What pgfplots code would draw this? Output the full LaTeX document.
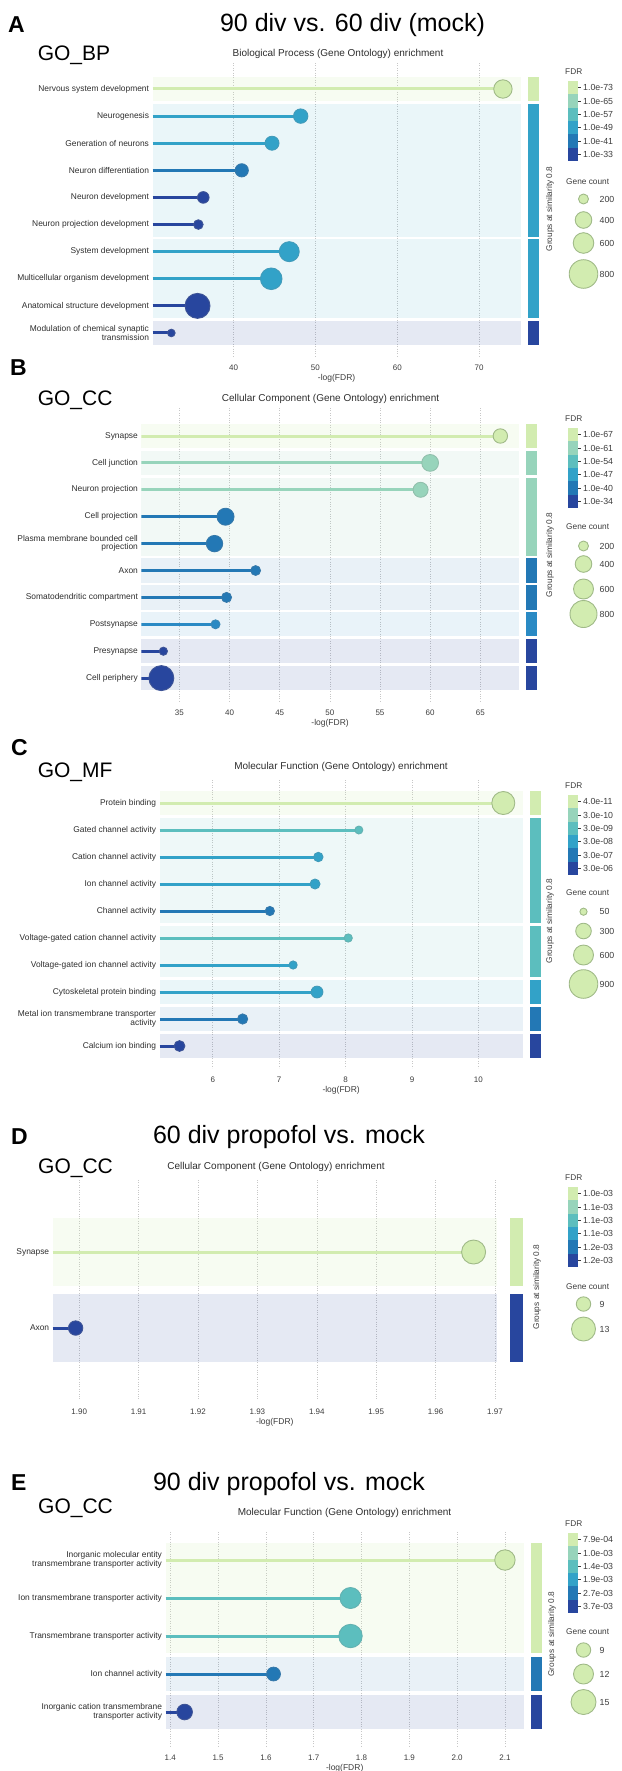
\documentclass[border=0pt]{standalone}
\usepackage{fontspec}
\setmainfont{Liberation Sans}
\usepackage{pgfplots}
\pgfplotsset{compat=1.18}

\definecolor{c1}{RGB}{210,236,176}
\definecolor{c2}{RGB}{151,212,187}
\definecolor{c3}{RGB}{92,190,190}
\definecolor{c4}{RGB}{50,162,200}
\definecolor{c45}{RGB}{42,138,196}
\definecolor{c5}{RGB}{35,120,181}
\definecolor{c6}{RGB}{40,70,158}
\definecolor{b1}{RGB}{160,186,136}
\definecolor{lbl}{RGB}{45,45,45}
\definecolor{tk}{RGB}{60,60,60}
\colorlet{c2d}{c2!75!gray}
\colorlet{c3d}{c3!80!gray}
\colorlet{c4d}{c4!80!gray}
\colorlet{c45d}{c45!80!gray}
\colorlet{c5d}{c5!80!gray}
\colorlet{c6d}{c6!75!gray}

\newcommand{\fs}[1]{\fontsize{#1}{#1}\selectfont}

\pgfplotsset{
  panel/.style={scale only axis, clip mode=individual, y dir=reverse, anchor=north west,
    axis line style={draw=none}, major tick length=0pt, xmajorgrids,
    grid style={dash pattern=on 0.8pt off 1.6pt, black!22, line width=0.5pt},
    ytick={1,...,10},
    xticklabel style={font=\fs{8}, text=tk, yshift=-5pt},
    yticklabel style={font=\fs{8.4}, text=lbl, align=right},
    xlabel={-log(FDR)},
    xlabel style={font=\fs{8.5}, text=tk, at={(axis description cs:0.5,0)}, anchor=center, yshift=-22pt},
    /pgf/number format/assume math mode=true},
  lol/.style 2 args={xcomb, line width=3pt, color=#1, mark=*,
    mark options={solid, line width=0.9pt, fill=#1, draw=#2}},
}

% group background + group bar (inside an axis)
\newcommand{\grp}[5]{%
  \fill[#3, fill opacity=#4] (axis cs:\XA,#1) rectangle (axis cs:\XB,#2);
  \fill[#5] ([xshift=\GA]axis cs:\XB,#1) rectangle ([xshift=\GB]axis cs:\XB,#2);
}
% FDR colour legend (top y of bar in px)
\newcommand{\fdrlegend}[7]{%
  \node[anchor=west, inner sep=0pt, font=\fs{8.3}, text=tk] at (565pt,{-(#1-9)*1pt}) {FDR};
  \foreach \c [count=\i from 0] in {c1,c2,c3,c4,c5,c6}{
    \fill[\c] (568pt,{-(#1+13.33*\i)*1pt}) rectangle (578pt,{-(#1+13.33*(\i+1))*1pt});
  }
  \foreach \l [count=\i from 0] in {#2,#3,#4,#5,#6,#7}{
    \draw[tk, line width=0.5pt] (578pt,{-(#1+13.33*\i+6.67)*1pt}) -- ++(3pt,0);
    \node[anchor=west, inner sep=0pt, font=\fs{8.8}, text=tk] at (583pt,{-(#1+13.33*\i+6.67)*1pt}) {\l};
  }
}
\newcommand{\gctitle}[1]{\node[anchor=west, inner sep=0pt, font=\fs{8.3}, text=tk] at (566pt,-#1pt) {Gene count};}
\newcommand{\gc}[3]{%
  \draw[fill=c1, draw=b1, line width=0.9pt] (583.5pt,-#1pt) circle[radius=#2pt];
  \node[anchor=west, inner sep=0pt, font=\fs{8.8}, text=tk] at (599.5pt,-#1pt) {#3};}
\newcommand{\grouplabel}[2]{\node[rotate=90, font=\fs{8.3}, text=tk] at (#1pt,-#2pt) {Groups at similarity 0.8};}

\begin{document}
\begin{tikzpicture}[x=1pt,y=1pt]
\path[use as bounding box] (0,0) rectangle (621pt,-1771pt);

%================ PANEL A =================
\node[anchor=west, inner sep=0pt, font=\bfseries\fs{23}] at (8pt,-25pt) {A};
\node[inner sep=0pt, font=\fs{25}] at (352.5pt,-25pt) {90 div vs. 60 div (mock)};
\node[anchor=west, inner sep=0pt, font=\fs{21}] at (37.6pt,-55pt) {GO\_BP};
\node[inner sep=0pt, font=\fs{10}, text=lbl] at (338pt,-54pt) {Biological Process (Gene Ontology) enrichment};
\def\XA{30.1}\def\XB{75.07}\def\GA{7.5pt}\def\GB{18.5pt}
\begin{axis}[panel, at={(152.5pt,-63pt)}, width=368.2pt, height=293pt,
  xmin=30.1, xmax=75.07, ymin=0.041, ymax=10.849,
  xtick={40,50,60,70}, xticklabels={40,50,60,70},
  yticklabels={{Nervous system development},{Neurogenesis},{Generation of neurons},{Neuron differentiation},{Neuron development},{Neuron projection development},{System development},{Multicellular organism development},{Anatomical structure development},{Modulation of chemical synaptic\\transmission}}]
\grp{0.55}{1.45}{c1}{0.17}{c1}
\grp{1.55}{6.45}{c4}{0.1}{c4}
\grp{6.55}{9.45}{c4}{0.1}{c4}
\grp{9.55}{10.45}{c6}{0.12}{c6}
\addplot[lol={c1}{b1}, mark size=9.2pt] coordinates {(72.9,1)};
\addplot[lol={c4}{c4d}, mark size=7.2pt] coordinates {(48.2,2)};
\addplot[lol={c4}{c4d}, mark size=7.0pt] coordinates {(44.7,3)};
\addplot[lol={c5}{c5d}, mark size=6.6pt] coordinates {(41.0,4)};
\addplot[lol={c6}{c6d}, mark size=5.8pt] coordinates {(36.3,5)};
\addplot[lol={c6}{c6d}, mark size=4.8pt] coordinates {(35.7,6)};
\addplot[lol={c4}{c4d}, mark size=10.0pt] coordinates {(46.8,7)};
\addplot[lol={c4}{c4d}, mark size=10.8pt] coordinates {(44.6,8)};
\addplot[lol={c6}{c6d}, mark size=12.5pt] coordinates {(35.6,9)};
\addplot[lol={c6}{c6d}, mark size=3.8pt] coordinates {(32.4,10)};
\end{axis}
\grouplabel{550}{209}
\fdrlegend{81}{1.0e-73}{1.0e-65}{1.0e-57}{1.0e-49}{1.0e-41}{1.0e-33}
\gctitle{182}
\gc{199}{5}{200}
\gc{220}{8.3}{400}
\gc{243}{10.3}{600}
\gc{274}{14.3}{800}

%================ PANEL B =================
\node[anchor=west, inner sep=0pt, font=\bfseries\fs{23}] at (10pt,-368pt) {B};
\node[anchor=west, inner sep=0pt, font=\fs{21}] at (37.6pt,-400pt) {GO\_CC};
\node[inner sep=0pt, font=\fs{10}, text=lbl] at (330.5pt,-399pt) {Cellular Component (Gene Ontology) enrichment};
\def\XA{31.21}\def\XB{68.84}\def\GA{7.5pt}\def\GB{18.5pt}
\begin{axis}[panel, at={(141.4pt,-408pt)}, width=377.4pt, height=293pt,
  xmin=31.21, xmax=68.84, ymin=-0.041, ymax=10.851,
  xtick={35,40,45,50,55,60,65}, xticklabels={35,40,45,50,55,60,65},
  yticklabels={{Synapse},{Cell junction},{Neuron projection},{Cell projection},{Plasma membrane bounded cell\\projection},{Axon},{Somatodendritic compartment},{Postsynapse},{Presynapse},{Cell periphery}}]
\grp{0.55}{1.45}{c1}{0.17}{c1}
\grp{1.55}{2.45}{c2}{0.13}{c2}
\grp{2.55}{5.45}{c2}{0.13}{c2}
\grp{5.55}{6.45}{c5}{0.1}{c5}
\grp{6.55}{7.45}{c5}{0.1}{c5}
\grp{7.55}{8.45}{c45}{0.1}{c45}
\grp{8.55}{9.45}{c6}{0.12}{c6}
\grp{9.55}{10.45}{c6}{0.12}{c6}
\addplot[lol={c1}{b1}, mark size=7.2pt] coordinates {(67.0,1)};
\addplot[lol={c2}{c2d}, mark size=8.4pt] coordinates {(60.0,2)};
\addplot[lol={c2}{c2d}, mark size=7.5pt] coordinates {(59.05,3)};
\addplot[lol={c5}{c5d}, mark size=8.5pt] coordinates {(39.6,4)};
\addplot[lol={c5}{c5d}, mark size=8.2pt] coordinates {(38.5,5)};
\addplot[lol={c5}{c5d}, mark size=4.9pt] coordinates {(42.6,6)};
\addplot[lol={c5}{c5d}, mark size=5.0pt] coordinates {(39.7,7)};
\addplot[lol={c45}{c45d}, mark size=4.5pt] coordinates {(38.6,8)};
\addplot[lol={c6}{c6d}, mark size=4.1pt] coordinates {(33.4,9)};
\addplot[lol={c6}{c6d}, mark size=12.5pt] coordinates {(33.2,10)};
\end{axis}
\grouplabel{550}{555}
\fdrlegend{428}{1.0e-67}{1.0e-61}{1.0e-54}{1.0e-47}{1.0e-40}{1.0e-34}
\gctitle{527}
\gc{546}{5}{200}
\gc{564}{8.3}{400}
\gc{589}{10}{600}
\gc{614}{13.5}{800}

%================ PANEL C =================
\node[anchor=west, inner sep=0pt, font=\bfseries\fs{23}] at (11pt,-748pt) {C};
\node[anchor=west, inner sep=0pt, font=\fs{21}] at (37.6pt,-772pt) {GO\_MF};
\node[inner sep=0pt, font=\fs{10}, text=lbl] at (341pt,-767pt) {Molecular Function (Gene Ontology) enrichment};
\def\XA{5.2}\def\XB{10.667}\def\GA{7.5pt}\def\GB{18.5pt}
\begin{axis}[panel, at={(159.6pt,-780pt)}, width=363.1pt, height=288pt,
  xmin=5.2, xmax=10.667, ymin=0.148, ymax=10.815,
  xtick={6,7,8,9,10}, xticklabels={6,7,8,9,10},
  yticklabels={{Protein binding},{Gated channel activity},{Cation channel activity},{Ion channel activity},{Channel activity},{Voltage-gated cation channel activity},{Voltage-gated ion channel activity},{Cytoskeletal protein binding},{Metal ion transmembrane transporter\\activity},{Calcium ion binding}}]
\grp{0.55}{1.45}{c1}{0.17}{c1}
\grp{1.55}{5.45}{c3}{0.1}{c3}
\grp{5.55}{7.45}{c3}{0.1}{c3}
\grp{7.55}{8.45}{c4}{0.1}{c4}
\grp{8.55}{9.45}{c5}{0.1}{c5}
\grp{9.55}{10.45}{c6}{0.12}{c6}
\addplot[lol={c1}{b1}, mark size=11.5pt] coordinates {(10.375,1)};
\addplot[lol={c3}{c3d}, mark size=4.0pt] coordinates {(8.2,2)};
\addplot[lol={c4}{c4d}, mark size=4.7pt] coordinates {(7.59,3)};
\addplot[lol={c4}{c4d}, mark size=5.0pt] coordinates {(7.54,4)};
\addplot[lol={c5}{c5d}, mark size=4.6pt] coordinates {(6.86,5)};
\addplot[lol={c3}{c3d}, mark size=4.1pt] coordinates {(8.04,6)};
\addplot[lol={c4}{c4d}, mark size=4.1pt] coordinates {(7.21,7)};
\addplot[lol={c4}{c4d}, mark size=5.9pt] coordinates {(7.57,8)};
\addplot[lol={c5}{c5d}, mark size=5.1pt] coordinates {(6.45,9)};
\addplot[lol={c6}{c6d}, mark size=5.4pt] coordinates {(5.5,10)};
\end{axis}
\grouplabel{550}{921}
\fdrlegend{795}{4.0e-11}{3.0e-10}{3.0e-09}{3.0e-08}{3.0e-07}{3.0e-06}
\gctitle{893}
\gc{911.7}{3.6}{50}
\gc{931}{7.8}{300}
\gc{955}{10}{600}
\gc{984}{14.3}{900}

%================ PANEL D =================
\node[anchor=west, inner sep=0pt, font=\bfseries\fs{23}] at (11pt,-1137pt) {D};
\node[inner sep=0pt, font=\fs{25}] at (289pt,-1137pt) {60 div propofol vs. mock};
\node[anchor=west, inner sep=0pt, font=\fs{21}] at (38pt,-1168pt) {GO\_CC};
\node[inner sep=0pt, font=\fs{10}, text=lbl] at (276pt,-1167pt) {Cellular Component (Gene Ontology) enrichment};
\def\XA{1.89554}\def\XB{1.97034}\def\GA{12.5pt}\def\GB{25.5pt}
\begin{axis}[panel, at={(52.7pt,-1180pt)}, width=444.3pt, height=220pt,
  xmin=1.89554, xmax=1.97034, ymin=0.0526, ymax=2.947,
  xtick={1.90,1.91,1.92,1.93,1.94,1.95,1.96,1.97}, xticklabels={1.90,1.91,1.92,1.93,1.94,1.95,1.96,1.97},
  ytick={1,2}, yticklabels={{Synapse},{Axon}}]
\grp{0.55}{1.45}{c1}{0.17}{c1}
\grp{1.55}{2.45}{c6}{0.12}{c6}
\addplot[lol={c1}{b1}, mark size=12pt] coordinates {(1.9664,1)};
\addplot[lol={c6}{c6d}, mark size=7.2pt] coordinates {(1.8994,2)};
\end{axis}
\grouplabel{537}{1287}
\fdrlegend{1187}{1.0e-03}{1.1e-03}{1.1e-03}{1.1e-03}{1.2e-03}{1.2e-03}
\gctitle{1287}
\gc{1304}{7.2}{9}
\gc{1329}{12}{13}

%================ PANEL E =================
\node[anchor=west, inner sep=0pt, font=\bfseries\fs{23}] at (11pt,-1483pt) {E};
\node[inner sep=0pt, font=\fs{25}] at (289pt,-1484pt) {90 div propofol vs. mock};
\node[anchor=west, inner sep=0pt, font=\fs{21}] at (38pt,-1508pt) {GO\_CC};
\node[inner sep=0pt, font=\fs{10}, text=lbl] at (344.5pt,-1513pt) {Molecular Function (Gene Ontology) enrichment};
\def\XA{1.39}\def\XB{2.1397}\def\GA{7pt}\def\GB{18pt}
\begin{axis}[panel, at={(165.5pt,-1532pt)}, width=358.4pt, height=214pt,
  xmin=1.39, xmax=2.1397, ymin=0.263, ymax=5.895,
  xtick={1.4,1.5,1.6,1.7,1.8,1.9,2.0,2.1}, xticklabels={1.4,1.5,1.6,1.7,1.8,1.9,2.0,2.1},
  ytick={1,2,3,4,5},
  yticklabels={{Inorganic molecular entity\\transmembrane transporter activity},{Ion transmembrane transporter activity},{Transmembrane transporter activity},{Ion channel activity},{Inorganic cation transmembrane\\transporter activity}}]
\grp{0.55}{3.45}{c1}{0.17}{c1}
\grp{3.55}{4.45}{c5}{0.1}{c5}
\grp{4.55}{5.45}{c6}{0.12}{c6}
\addplot[lol={c1}{b1}, mark size=10.2pt] coordinates {(2.100,1)};
\addplot[lol={c3}{c3d}, mark size=10.5pt] coordinates {(1.777,2)};
\addplot[lol={c3}{c3d}, mark size=11.7pt] coordinates {(1.777,3)};
\addplot[lol={c5}{c5d}, mark size=6.9pt] coordinates {(1.616,4)};
\addplot[lol={c6}{c6d}, mark size=7.8pt] coordinates {(1.430,5)};
\end{axis}
\grouplabel{552}{1634}
\fdrlegend{1533}{7.9e-04}{1.0e-03}{1.4e-03}{1.9e-03}{2.7e-03}{3.7e-03}
\gctitle{1632}
\gc{1650}{7.2}{9}
\gc{1674}{10}{12}
\gc{1702}{12.5}{15}
\end{tikzpicture}
\end{document}
